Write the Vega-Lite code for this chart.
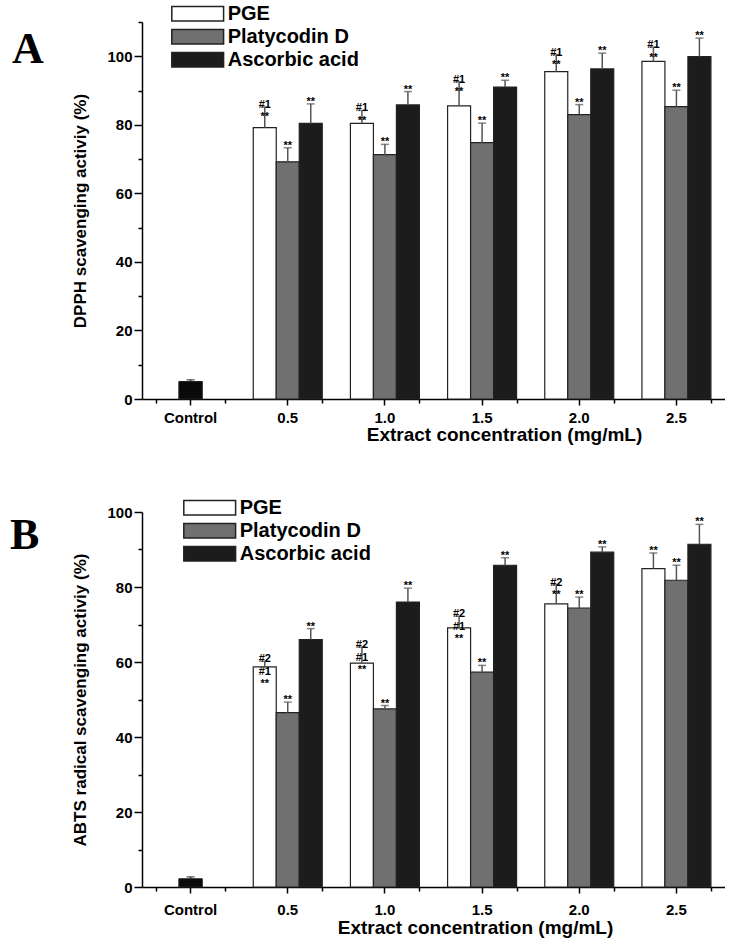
{
  "$schema": "https://vega.github.io/schema/vega-lite/v6.json",
  "padding": {"left": 10, "top": 3, "right": 0, "bottom": 0},
  "spacing": 52,
  "config": {
    "view": {"stroke": null},
    "font": "Liberation Sans",
    "axis": {
      "domainColor": "#000", "domainWidth": 1.5, "tickColor": "#000", "tickWidth": 1.5,
      "labelColor": "#000", "titleColor": "#000", "grid": false,
      "labelFont": "Liberation Sans", "labelFontSize": 15, "labelFontWeight": "bold",
      "titleFont": "Liberation Sans", "titleFontWeight": "bold"
    }
  },
  "resolve": {"scale": {"fill": "independent"}, "legend": {"fill": "independent"}},
  "datasets": {
    "rows": [
      {"panel": "A", "conc": "Control", "series": "Control", "value": 5.1, "hi": 5.6, "label": ""},
      {"panel": "A", "conc": "0.5", "series": "PGE", "value": 79.2, "hi": 85.2, "label": "#1\n**"},
      {"panel": "A", "conc": "0.5", "series": "Platycodin D", "value": 69.2, "hi": 73.3, "label": "**"},
      {"panel": "A", "conc": "0.5", "series": "Ascorbic acid", "value": 80.4, "hi": 86.1, "label": "**"},
      {"panel": "A", "conc": "1.0", "series": "PGE", "value": 80.4, "hi": 84.2, "label": "#1\n**"},
      {"panel": "A", "conc": "1.0", "series": "Platycodin D", "value": 71.3, "hi": 74.3, "label": "**"},
      {"panel": "A", "conc": "1.0", "series": "Ascorbic acid", "value": 85.8, "hi": 89.7, "label": "**"},
      {"panel": "A", "conc": "1.5", "series": "PGE", "value": 85.5, "hi": 92.6, "label": "#1\n**"},
      {"panel": "A", "conc": "1.5", "series": "Platycodin D", "value": 74.8, "hi": 80.5, "label": "**"},
      {"panel": "A", "conc": "1.5", "series": "Ascorbic acid", "value": 91.0, "hi": 93.0, "label": "**"},
      {"panel": "A", "conc": "2.0", "series": "PGE", "value": 95.5, "hi": 100.5, "label": "#1\n**"},
      {"panel": "A", "conc": "2.0", "series": "Platycodin D", "value": 83.0, "hi": 85.9, "label": "**"},
      {"panel": "A", "conc": "2.0", "series": "Ascorbic acid", "value": 96.3, "hi": 100.9, "label": "**"},
      {"panel": "A", "conc": "2.5", "series": "PGE", "value": 98.5, "hi": 102.7, "label": "#1\n**"},
      {"panel": "A", "conc": "2.5", "series": "Platycodin D", "value": 85.3, "hi": 90.1, "label": "**"},
      {"panel": "A", "conc": "2.5", "series": "Ascorbic acid", "value": 99.9, "hi": 105.3, "label": "**"},
      {"panel": "B", "conc": "Control", "series": "Control", "value": 2.2, "hi": 2.7, "label": ""},
      {"panel": "B", "conc": "0.5", "series": "PGE", "value": 58.7, "hi": 60.2, "label": "#2\n#1\n**"},
      {"panel": "B", "conc": "0.5", "series": "Platycodin D", "value": 46.5, "hi": 49.3, "label": "**"},
      {"panel": "B", "conc": "0.5", "series": "Ascorbic acid", "value": 66.0, "hi": 68.9, "label": "**"},
      {"panel": "B", "conc": "1.0", "series": "PGE", "value": 59.7, "hi": 64.0, "label": "#2\n#1\n**"},
      {"panel": "B", "conc": "1.0", "series": "Platycodin D", "value": 47.5, "hi": 48.4, "label": "**"},
      {"panel": "B", "conc": "1.0", "series": "Ascorbic acid", "value": 76.0, "hi": 79.7, "label": "**"},
      {"panel": "B", "conc": "1.5", "series": "PGE", "value": 69.1, "hi": 72.2, "label": "#2\n#1\n**"},
      {"panel": "B", "conc": "1.5", "series": "Platycodin D", "value": 57.3, "hi": 59.1, "label": "**"},
      {"panel": "B", "conc": "1.5", "series": "Ascorbic acid", "value": 85.8, "hi": 87.8, "label": "**"},
      {"panel": "B", "conc": "2.0", "series": "PGE", "value": 75.5, "hi": 80.6, "label": "#2\n**"},
      {"panel": "B", "conc": "2.0", "series": "Platycodin D", "value": 74.4, "hi": 77.3, "label": "**"},
      {"panel": "B", "conc": "2.0", "series": "Ascorbic acid", "value": 89.3, "hi": 90.7, "label": "**"},
      {"panel": "B", "conc": "2.5", "series": "PGE", "value": 84.9, "hi": 89.1, "label": "**"},
      {"panel": "B", "conc": "2.5", "series": "Platycodin D", "value": 81.8, "hi": 85.8, "label": "**"},
      {"panel": "B", "conc": "2.5", "series": "Ascorbic acid", "value": 91.4, "hi": 96.7, "label": "**"}
    ]
  },
  "vconcat": [
    {
      "title": {"text": "A", "anchor": "start", "frame": "group", "orient": "top", "font": "Liberation Serif", "fontSize": 44, "fontWeight": "bold", "color": "#000", "baseline": "alphabetic", "offset": 0, "dx": -130, "dy": 103},
      "width": 583,
      "height": 377,
      "data": {"name": "rows"},
      "transform": [{"filter": "datum.panel === 'A'"}],
      "resolve": {"axis": {"x": "independent", "y": "independent"}},
      "layer": [
        {
          "transform": [{"filter": "datum.series !== 'Control'"}],
          "mark": {"type": "bar", "stroke": "#222", "strokeWidth": 1.2},
          "encoding": {
            "x": {"field": "conc", "type": "nominal", "sort": ["Control", "0.5", "1.0", "1.5", "2.0", "2.5"],
                  "scale": {"domain": ["Control", "0.5", "1.0", "1.5", "2.0", "2.5"], "paddingInner": 0.29, "paddingOuter": 0.145},
                  "axis": {"orient": "bottom", "title": "Extract concentration (mg/mL)", "titleX": 362, "titleY": 26.5, "titleAlign": "center", "titleBaseline": "top", "titleFontSize": 19, "labelAngle": 0, "labelPadding": 5, "tickSize": 6}},
            "xOffset": {"field": "series", "type": "nominal", "scale": {"domain": ["PGE", "Platycodin D", "Ascorbic acid"], "paddingInner": 0, "paddingOuter": 0}},
            "y": {"field": "value", "type": "quantitative", "scale": {"domain": [0, 110], "nice": false},
                  "axis": {"orient": "left", "title": "DPPH scavenging activiy (%)", "titleFontSize": 17, "titlePadding": 17,
                           "values": [0, 10, 20, 30, 40, 50, 60, 70, 80, 90, 100, 110],
                           "labelExpr": "datum.value % 20 === 0 ? datum.label : ''",
                           "tickSize": {"condition": {"test": "datum.value % 20 === 0", "value": 8}, "value": 4}}},
            "fill": {"field": "series", "type": "nominal",
                     "scale": {"domain": ["PGE", "Platycodin D", "Ascorbic acid"], "range": ["#ffffff", "#707070", "#1c1c1c"]},
                     "legend": {"orient": "none", "legendX": 45.7, "legendY": -18.3, "title": null,
                                "symbolType": "M-3.6,-1H3.6V1H-3.6Z", "symbolSize": 207, "symbolStrokeColor": "#222", "symbolStrokeWidth": 1.5, "symbolOpacity": 1,
                                "labelFont": "Liberation Sans", "labelFontSize": 20, "labelFontWeight": "bold", "labelColor": "#000", "labelOffset": 20, "rowPadding": 1, "padding": 0}}
          }
        },
        {
          "transform": [{"filter": "datum.series === 'Control'"}],
          "mark": {"type": "bar", "fill": "#0a0a0a", "stroke": "#222", "strokeWidth": 1, "width": {"band": 0.34}},
          "encoding": {
            "x": {"field": "conc", "type": "nominal", "sort": ["Control", "0.5", "1.0", "1.5", "2.0", "2.5"],
                  "axis": {"orient": "bottom", "tickBand": "extent", "labels": false, "domain": false, "title": null, "tickSize": 4}},
            "y": {"field": "value", "type": "quantitative", "axis": null}
          }
        },
        {
          "transform": [{"filter": "datum.series !== 'Control'"}],
          "mark": {"type": "rule", "color": "#555", "strokeWidth": 1.5},
          "encoding": {
            "x": {"field": "conc", "type": "nominal", "sort": ["Control", "0.5", "1.0", "1.5", "2.0", "2.5"], "axis": null},
            "xOffset": {"field": "series", "type": "nominal"},
            "y": {"field": "value", "type": "quantitative", "axis": null},
            "y2": {"field": "hi"}
          }
        },
        {
          "transform": [{"filter": "datum.series !== 'Control'"}],
          "mark": {"type": "tick", "orient": "horizontal", "color": "#555", "size": 8, "thickness": 1.5},
          "encoding": {
            "x": {"field": "conc", "type": "nominal", "sort": ["Control", "0.5", "1.0", "1.5", "2.0", "2.5"], "axis": null},
            "xOffset": {"field": "series", "type": "nominal"},
            "y": {"field": "hi", "type": "quantitative", "axis": null}
          }
        },
        {
          "transform": [{"filter": "datum.series === 'Control'"}],
          "mark": {"type": "rule", "color": "#333", "strokeWidth": 1.5},
          "encoding": {
            "x": {"field": "conc", "type": "nominal", "sort": ["Control", "0.5", "1.0", "1.5", "2.0", "2.5"], "axis": null},
            "y": {"field": "value", "type": "quantitative", "axis": null},
            "y2": {"field": "hi"}
          }
        },
        {
          "transform": [{"filter": "datum.series === 'Control'"}],
          "mark": {"type": "tick", "orient": "horizontal", "color": "#333", "size": 8, "thickness": 1.5},
          "encoding": {
            "x": {"field": "conc", "type": "nominal", "sort": ["Control", "0.5", "1.0", "1.5", "2.0", "2.5"], "axis": null},
            "y": {"field": "hi", "type": "quantitative", "axis": null}
          }
        },
        {
          "transform": [{"filter": "datum.series !== 'Control'"}],
          "mark": {"type": "text", "font": "Liberation Sans", "fontSize": 11, "fontWeight": "bold", "color": "#000", "baseline": "bottom", "lineBreak": "\n", "lineHeight": 12.5, "dy": 3},
          "encoding": {
            "x": {"field": "conc", "type": "nominal", "sort": ["Control", "0.5", "1.0", "1.5", "2.0", "2.5"], "axis": null},
            "xOffset": {"field": "series", "type": "nominal"},
            "y": {"field": "hi", "type": "quantitative", "axis": null},
            "text": {"field": "label"}
          }
        }
      ]
    },
    {
      "title": {"text": "B", "anchor": "start", "frame": "group", "orient": "top", "font": "Liberation Serif", "fontSize": 44, "fontWeight": "bold", "color": "#000", "baseline": "alphabetic", "offset": 0, "dx": -132, "dy": 95},
      "width": 583,
      "height": 375,
      "data": {"name": "rows"},
      "transform": [{"filter": "datum.panel === 'B'"}],
      "resolve": {"axis": {"x": "independent", "y": "independent"}},
      "layer": [
        {
          "transform": [{"filter": "datum.series !== 'Control'"}],
          "mark": {"type": "bar", "stroke": "#222", "strokeWidth": 1.2},
          "encoding": {
            "x": {"field": "conc", "type": "nominal", "sort": ["Control", "0.5", "1.0", "1.5", "2.0", "2.5"],
                  "scale": {"domain": ["Control", "0.5", "1.0", "1.5", "2.0", "2.5"], "paddingInner": 0.29, "paddingOuter": 0.145},
                  "axis": {"orient": "bottom", "title": "Extract concentration (mg/mL)", "titleX": 333, "titleY": 31.5, "titleAlign": "center", "titleBaseline": "top", "titleFontSize": 19, "labelAngle": 0, "labelPadding": 9, "tickSize": 6}},
            "xOffset": {"field": "series", "type": "nominal", "scale": {"domain": ["PGE", "Platycodin D", "Ascorbic acid"], "paddingInner": 0, "paddingOuter": 0}},
            "y": {"field": "value", "type": "quantitative", "scale": {"domain": [0, 100], "nice": false},
                  "axis": {"orient": "left", "title": "ABTS radical scavenging activiy (%)", "titleFontSize": 17, "titlePadding": 17,
                           "values": [0, 10, 20, 30, 40, 50, 60, 70, 80, 90, 100],
                           "labelExpr": "datum.value % 20 === 0 ? datum.label : ''",
                           "tickSize": {"condition": {"test": "datum.value % 20 === 0", "value": 8}, "value": 4}}},
            "fill": {"field": "series", "type": "nominal",
                     "scale": {"domain": ["PGE", "Platycodin D", "Ascorbic acid"], "range": ["#ffffff", "#707070", "#1c1c1c"]},
                     "legend": {"orient": "none", "legendX": 57.7, "legendY": -14.2, "title": null,
                                "symbolType": "M-3.6,-1H3.6V1H-3.6Z", "symbolSize": 207, "symbolStrokeColor": "#222", "symbolStrokeWidth": 1.5, "symbolOpacity": 1,
                                "labelFont": "Liberation Sans", "labelFontSize": 20, "labelFontWeight": "bold", "labelColor": "#000", "labelOffset": 20, "rowPadding": 1, "padding": 0}}
          }
        },
        {
          "transform": [{"filter": "datum.series === 'Control'"}],
          "mark": {"type": "bar", "fill": "#0a0a0a", "stroke": "#222", "strokeWidth": 1, "width": {"band": 0.34}},
          "encoding": {
            "x": {"field": "conc", "type": "nominal", "sort": ["Control", "0.5", "1.0", "1.5", "2.0", "2.5"],
                  "axis": {"orient": "bottom", "tickBand": "extent", "labels": false, "domain": false, "title": null, "tickSize": 4}},
            "y": {"field": "value", "type": "quantitative", "axis": null}
          }
        },
        {
          "transform": [{"filter": "datum.series !== 'Control'"}],
          "mark": {"type": "rule", "color": "#555", "strokeWidth": 1.5},
          "encoding": {
            "x": {"field": "conc", "type": "nominal", "sort": ["Control", "0.5", "1.0", "1.5", "2.0", "2.5"], "axis": null},
            "xOffset": {"field": "series", "type": "nominal"},
            "y": {"field": "value", "type": "quantitative", "axis": null},
            "y2": {"field": "hi"}
          }
        },
        {
          "transform": [{"filter": "datum.series !== 'Control'"}],
          "mark": {"type": "tick", "orient": "horizontal", "color": "#555", "size": 8, "thickness": 1.5},
          "encoding": {
            "x": {"field": "conc", "type": "nominal", "sort": ["Control", "0.5", "1.0", "1.5", "2.0", "2.5"], "axis": null},
            "xOffset": {"field": "series", "type": "nominal"},
            "y": {"field": "hi", "type": "quantitative", "axis": null}
          }
        },
        {
          "transform": [{"filter": "datum.series === 'Control'"}],
          "mark": {"type": "rule", "color": "#333", "strokeWidth": 1.5},
          "encoding": {
            "x": {"field": "conc", "type": "nominal", "sort": ["Control", "0.5", "1.0", "1.5", "2.0", "2.5"], "axis": null},
            "y": {"field": "value", "type": "quantitative", "axis": null},
            "y2": {"field": "hi"}
          }
        },
        {
          "transform": [{"filter": "datum.series === 'Control'"}],
          "mark": {"type": "tick", "orient": "horizontal", "color": "#333", "size": 8, "thickness": 1.5},
          "encoding": {
            "x": {"field": "conc", "type": "nominal", "sort": ["Control", "0.5", "1.0", "1.5", "2.0", "2.5"], "axis": null},
            "y": {"field": "hi", "type": "quantitative", "axis": null}
          }
        },
        {
          "transform": [{"filter": "datum.series !== 'Control'"}],
          "mark": {"type": "text", "font": "Liberation Sans", "fontSize": 11, "fontWeight": "bold", "color": "#000", "baseline": "bottom", "lineBreak": "\n", "lineHeight": 12.5, "dy": 3},
          "encoding": {
            "x": {"field": "conc", "type": "nominal", "sort": ["Control", "0.5", "1.0", "1.5", "2.0", "2.5"], "axis": null},
            "xOffset": {"field": "series", "type": "nominal"},
            "y": {"field": "hi", "type": "quantitative", "axis": null},
            "text": {"field": "label"}
          }
        }
      ]
    }
  ]
}
